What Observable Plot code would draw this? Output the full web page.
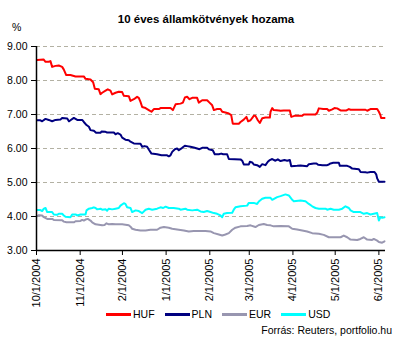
<!DOCTYPE html>
<html><head><meta charset="utf-8">
<script src="https://cdn.jsdelivr.net/npm/d3@7"></script>
<script src="https://cdn.jsdelivr.net/npm/@observablehq/plot@0.6"></script>
<style>
body{margin:0;background:#fff;}
#wrap{position:relative;width:404px;height:339px;font-family:"Liberation Sans",Arial,sans-serif;overflow:hidden;background:#fff;color:#000;}
#title{position:absolute;left:4px;width:404px;top:13px;text-align:center;font-weight:bold;font-size:11.5px;}
#pct{position:absolute;left:12px;top:21px;font-size:10.5px;}
#chart{position:absolute;left:0;top:0;}
#legend{position:absolute;left:106px;top:308px;display:flex;align-items:center;font-size:10.5px;}
.item{display:flex;align-items:center;margin-right:10px;}
.sw{width:25px;height:3px;margin-right:2px;}
#caption{position:absolute;right:12px;top:324px;font-size:10.5px;}
</style></head>
<body>
<div id="wrap">
  <div id="chart"></div>
  <div id="title">10 éves államkötvények hozama</div>
  <div id="pct">%</div>
  <div id="legend"></div>
  <div id="caption">Forrás: Reuters, portfolio.hu</div>
</div>
<script>
// [days since 2004-10-01, yield %]
const huf = [[0.5,8.60],[5,8.62],[6.4,8.55],[8.7,8.55],[9.9,8.57],[11.1,8.40],[13.5,8.43],[15.8,8.44],[18.2,8.40],[19.4,8.32],[21.1,8.16],[24.1,8.16],[27.7,8.12],[33.6,8.12],[34.8,8.05],[38.3,8.03],[40.2,7.95],[41.4,7.76],[44.2,7.74],[45.4,7.60],[46.6,7.64],[49,7.70],[50.6,7.74],[52.5,7.70],[53.7,7.59],[56.1,7.64],[58.4,7.67],[60.8,7.66],[62,7.55],[65.5,7.54],[66.7,7.40],[69.1,7.45],[71.4,7.52],[72.6,7.49],[73.8,7.37],[75,7.22],[77.4,7.19],[79.7,7.13],[81.6,7.08],[83.3,7.16],[86.8,7.16],[88,7.19],[95.1,7.19],[96.8,7.13],[98.7,7.30],[102.2,7.32],[103.9,7.35],[105.3,7.50],[106.9,7.52],[108.6,7.45],[110.5,7.49],[114,7.49],[115.2,7.35],[117.6,7.42],[121.1,7.42],[122.8,7.35],[124.7,7.27],[125.9,7.13],[128.2,7.16],[130.6,7.16],[131.8,7.08],[134.1,7.06],[136.5,7.03],[138.2,6.98],[139.3,6.73],[143.6,6.73],[144.8,6.78],[147.1,6.85],[149,6.93],[150.2,6.80],[151.9,6.83],[154.2,6.96],[155.4,6.96],[157.1,6.83],[158.5,6.75],[160.2,6.89],[162.5,6.91],[165.6,6.91],[166.1,7.08],[167.3,7.19],[168.4,7.13],[172,7.12],[173.2,7.11],[175.5,7.12],[179.8,7.12],[180.8,6.93],[183.1,6.96],[188.6,6.96],[189.7,7.00],[198,7.00],[199.2,7.05],[200.4,7.18],[203.5,7.16],[206.3,7.16],[207.5,7.11],[209.9,7.15],[211.5,7.19],[213.4,7.18],[215.8,7.12],[220,7.12],[221.7,7.16],[222.9,7.14],[233.5,7.14],[234.7,7.11],[237,7.16],[241.8,7.16],[243,7.08],[244.1,6.98],[244.6,6.90],[247,6.90]];
const pln = [[0.5,6.83],[2.8,6.83],[4,6.80],[6.4,6.87],[8.7,6.84],[11.1,6.80],[13.5,6.84],[17,6.85],[18.2,6.90],[21.8,6.88],[23,6.80],[24.1,6.83],[26.5,6.90],[28.9,6.84],[32.4,6.84],[33.6,6.78],[35.5,6.69],[37.2,6.64],[38.3,6.54],[40.7,6.52],[42.3,6.46],[45.4,6.46],[46.1,6.50],[49,6.49],[50.1,6.47],[54.9,6.47],[56.1,6.42],[57.7,6.45],[59.6,6.41],[60.8,6.32],[63.1,6.26],[65.5,6.24],[66.7,6.20],[69.1,6.15],[73.8,6.14],[75,6.05],[76.7,6.07],[78.5,6.05],[79.7,5.97],[81.6,5.85],[85.6,5.83],[88.7,5.80],[92.7,5.80],[93.9,5.77],[95.1,5.80],[96.3,5.90],[98.2,5.98],[99.8,6.00],[101,5.95],[103.4,6.02],[105.3,6.08],[106.9,6.07],[109.3,6.05],[111.6,6.03],[114,6.00],[115.7,5.98],[117.6,6.02],[121.1,6.02],[122.3,5.98],[125.1,5.95],[126.5,5.83],[129.4,5.83],[131.1,5.85],[132.5,5.83],[135.3,5.83],[136.5,5.69],[144.8,5.68],[146,5.64],[147.1,5.53],[150.7,5.53],[151.4,5.61],[153.1,5.59],[154.2,5.53],[156.6,5.51],[158.5,5.46],[160.2,5.54],[162.5,5.51],[164.2,5.61],[165.6,5.66],[167.3,5.69],[169.6,5.64],[171.3,5.68],[173.2,5.63],[176,5.66],[177.9,5.64],[179.8,5.66],[180.8,5.48],[185,5.49],[187.4,5.50],[192.1,5.48],[193.3,5.54],[196.8,5.56],[198.7,5.56],[199.9,5.52],[203,5.51],[206.3,5.51],[207.5,5.53],[208.7,5.56],[210.6,5.58],[214.6,5.58],[215.3,5.49],[220.5,5.49],[222.4,5.46],[224.1,5.41],[228.8,5.39],[230,5.31],[233.5,5.30],[234.7,5.29],[237,5.31],[239.9,5.31],[241.1,5.24],[241.8,5.12],[243,5.02],[247,5.02]];
const eur = [[0.5,4.01],[1.7,4.04],[4,4.03],[5.2,3.98],[7.6,3.93],[11.1,3.93],[12.3,3.90],[18.2,3.89],[19.4,3.85],[21.3,3.83],[26.5,3.83],[27.7,3.86],[31.2,3.87],[32.4,3.90],[33.6,3.88],[34.8,3.91],[36.4,3.93],[38.3,3.88],[39.5,3.83],[41.9,3.77],[45.4,3.75],[46.6,3.74],[48.3,3.75],[49.7,3.80],[51.3,3.77],[53.7,3.78],[56.1,3.77],[60.8,3.77],[63.1,3.76],[65.5,3.74],[66.7,3.70],[67.9,3.64],[70.3,3.61],[73.8,3.59],[77.4,3.59],[80.9,3.61],[85.6,3.61],[88,3.67],[90.4,3.69],[93.9,3.67],[96.3,3.64],[99.8,3.62],[104.6,3.59],[108.1,3.56],[111.6,3.57],[115.2,3.57],[119.9,3.57],[123.5,3.56],[125.9,3.51],[129.4,3.47],[131.8,3.44],[134.1,3.47],[136.5,3.51],[138.9,3.61],[141.2,3.67],[144.8,3.71],[149.5,3.72],[151.9,3.74],[155.4,3.69],[157.8,3.75],[161.3,3.78],[163.7,3.75],[166.1,3.74],[168.4,3.71],[173.2,3.72],[179.1,3.71],[181.5,3.64],[185,3.62],[188.6,3.59],[192.1,3.56],[195.7,3.51],[200.4,3.49],[203.9,3.46],[207.5,3.39],[215.8,3.39],[218.1,3.44],[220.5,3.39],[222.9,3.32],[227.6,3.31],[229.9,3.34],[232.3,3.39],[234.7,3.32],[238.2,3.31],[239.4,3.34],[241.8,3.29],[243,3.25],[245.3,3.23],[247,3.27]];
const usd = [[0.5,4.19],[2.8,4.19],[4,4.16],[5.2,4.23],[6.4,4.25],[7.6,4.13],[11.1,4.13],[12.3,4.06],[14.7,4.05],[15.8,4.08],[18.2,4.08],[19.4,4.03],[20.6,3.99],[24.1,3.98],[25.3,4.06],[27.7,4.06],[28.9,4.03],[31.2,4.06],[34.8,4.06],[35.5,4.18],[37.2,4.23],[39.5,4.25],[40.7,4.27],[41.9,4.25],[43.1,4.21],[45.4,4.23],[46.6,4.20],[49,4.21],[50.1,4.17],[51.3,4.23],[53.7,4.21],[56.1,4.23],[58.4,4.25],[59.6,4.32],[62,4.39],[63.1,4.37],[64.3,4.27],[66.7,4.25],[67.9,4.13],[70.3,4.18],[72.6,4.16],[75,4.10],[77.4,4.20],[79.7,4.23],[82.1,4.20],[85.6,4.23],[88,4.27],[89.9,4.25],[91.6,4.29],[93.9,4.25],[97.4,4.25],[101,4.23],[102.2,4.20],[105.7,4.23],[106.9,4.20],[110.5,4.18],[114,4.20],[116.4,4.15],[118.7,4.13],[121.1,4.16],[123.5,4.13],[125.9,4.10],[128.2,4.08],[130.6,4.03],[131.8,3.98],[132.9,4.08],[135.3,4.10],[138.9,4.11],[140,4.20],[141.2,4.27],[144.8,4.30],[149.5,4.32],[150.7,4.40],[154.2,4.40],[156.6,4.37],[157.8,4.44],[160.2,4.52],[162.5,4.55],[166.1,4.55],[167.3,4.49],[170.8,4.57],[173.2,4.60],[176.7,4.65],[179.1,4.62],[181.5,4.49],[182.6,4.45],[187.4,4.47],[190.9,4.45],[193.3,4.37],[195.7,4.30],[198,4.25],[200.4,4.23],[205.1,4.23],[206.3,4.20],[208.7,4.23],[211,4.20],[214.6,4.20],[217,4.23],[219.3,4.30],[221.7,4.25],[222.9,4.18],[225.2,4.13],[229.9,4.13],[232.3,4.08],[234.7,4.10],[237,4.06],[239.4,4.08],[241.8,4.10],[243,3.88],[244.1,3.98],[245.3,3.96],[247,3.98]];

const seriesNames = ["HUF", "PLN", "EUR", "USD"];
const seriesColors = ["#ff0000", "#000080", "#9896b0", "#00ffff"];
const tickDateStrings = ["2004-10-01","2004-11-01","2004-12-01","2005-01-01","2005-02-01","2005-03-01","2005-04-01","2005-05-01","2005-06-01"];
const tickLabels = ["10/1/2004","11/1/2004","2/1/2004","1/1/2005","2/1/2005","3/1/2005","4/1/2005","5/1/2005","6/1/2005"];
const yTicks = [3, 4, 5, 6, 7, 8, 9];
const xEndDay = 247.7;

const start = Date.UTC(2004, 9, 1);
const toDate = d => new Date(start + d * 864e5);
const rows = [];
[huf, pln, eur, usd].forEach((s, i) => s.forEach(([d, v]) => rows.push({date: toDate(d), value: v, series: seriesNames[i]})));
const tickDates = tickDateStrings.map(s => new Date(s + "T00:00:00Z"));
const labelByTime = new Map(tickDates.map((d, i) => [+d, tickLabels[i]]));

const chart = Plot.plot({
  width: 404, height: 339,
  marginTop: 46, marginBottom: 89, marginLeft: 36, marginRight: 19,
  style: {fontFamily: "Liberation Sans, Arial, sans-serif", fontSize: "10px", color: "#000", background: "transparent", overflow: "visible"},
  x: {type: "utc", domain: [toDate(0), toDate(xEndDay)]},
  y: {domain: [3, 9]},
  color: {domain: seriesNames, range: seriesColors},
  marks: [
    Plot.gridY(yTicks.slice(1), {stroke: "#b3b1a3", strokeOpacity: 1, strokeDasharray: "4,3"}),
    Plot.lineY(rows, {x: "date", y: "value", stroke: "series", strokeWidth: 2}),
    Plot.axisY(yTicks, {tickSize: 5, tickPadding: 4, tickFormat: d => d.toFixed(2), label: null, fontSize: 10.5}),
    Plot.axisX(tickDates, {tickSize: 5, tickPadding: 3, tickFormat: d => labelByTime.get(+d), tickRotate: -90, label: null, fontSize: 11}),
    Plot.ruleX([toDate(0)], {stroke: "#000", strokeWidth: 1.5}),
    Plot.ruleY([3], {stroke: "#000", strokeWidth: 1.5})
  ]
});
document.getElementById("chart").appendChild(chart);

const legend = document.getElementById("legend");
seriesNames.forEach((n, i) => {
  const it = document.createElement("div");
  it.className = "item";
  const sw = document.createElement("div");
  sw.className = "sw";
  sw.style.background = seriesColors[i];
  const t = document.createElement("span");
  t.textContent = n;
  it.appendChild(sw); it.appendChild(t);
  legend.appendChild(it);
});
</script>
</body></html>
